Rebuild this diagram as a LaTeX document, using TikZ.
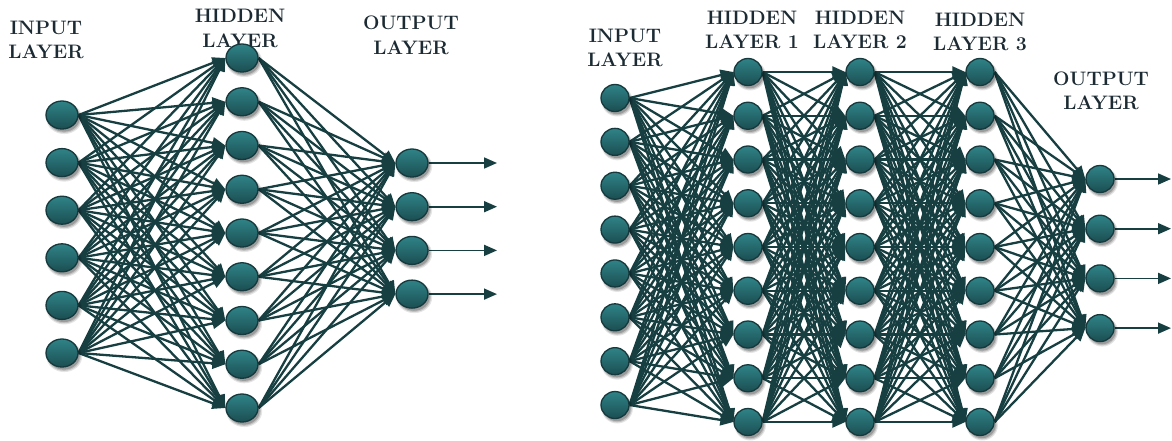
\documentclass[tikz,border=0pt]{standalone}
\usetikzlibrary{shapes.geometric,arrows.meta,shadows,backgrounds}
\definecolor{nodetop}{HTML}{2F8387}
\definecolor{nodebot}{HTML}{1B4E52}
\definecolor{nodeline}{HTML}{15393C}
\definecolor{linkcol}{HTML}{173F42}
\definecolor{titlecol}{HTML}{1C2B33}
\pgfdeclarelayer{edges}
\pgfsetlayers{background,edges,main}
\tikzset{
  softshadow/.style={
    drop shadow={shadow xshift=2pt, shadow yshift=-3pt, shadow scale=1.12, opacity=0.10, fill=black},
    drop shadow={shadow xshift=2pt, shadow yshift=-3pt, shadow scale=1.05, opacity=0.15, fill=black},
    drop shadow={shadow xshift=2pt, shadow yshift=-3pt, shadow scale=0.98, opacity=0.20, fill=black}},
  neuron/.style={ellipse, draw=nodeline, line width=1.3pt,
    top color=nodetop, bottom color=nodebot, inner sep=0pt, softshadow},
  lneuron/.style={neuron, minimum width=32pt, minimum height=28pt},
  rneuron/.style={neuron, minimum width=28pt, minimum height=27pt},
  link/.style={draw=linkcol, line width=2.3pt,
    -{Triangle[length=13pt,width=11pt]}},
  outlink/.style={draw=linkcol, line width=1.7pt,
    -{Triangle[length=13pt,width=11pt]}},
  title/.style={font=\fontsize{19.5}{24.5}\selectfont\bfseries,
    text=titlecol, align=center, inner sep=0pt}
}
\begin{document}
\begin{tikzpicture}[x=1pt,y=-1pt]
\begin{pgfonlayer}{background}
  \fill[white] (0,0) rectangle (1172,440);
\end{pgfonlayer}
\useasboundingbox (0,0) rectangle (1172,440);

% ---------- shallow network ----------
\node[title] (ltin)  at (46,40)    {INPUT\\LAYER};
\node[title] (lthid) at (240,28.5) {HIDDEN\\LAYER};
\node[title] (ltout) at (411,35.5) {OUTPUT\\LAYER};

\foreach \i in {1,...,6}
  \node[lneuron] (li\i) at (62,{115+47.6*(\i-1)}) {};
\foreach \i in {1,...,9}
  \node[lneuron] (lh\i) at (242,{58+43.75*(\i-1)}) {};
\foreach \i in {1,...,4} {
  \node[lneuron] (lo\i) at (412,{163+43.7*(\i-1)}) {};
  \coordinate (lend\i) at (497,{163+43.7*(\i-1)});
}

% ---------- deep network ----------
\node[title] (rtin)  at (625,48)   {INPUT\\LAYER};
\node[title] (rtha)  at (752,30)   {HIDDEN\\LAYER 1};
\node[title] (rthb)  at (860,30)   {HIDDEN\\LAYER 2};
\node[title] (rthc)  at (980,32)   {HIDDEN\\LAYER 3};
\node[title] (rtout) at (1101,91)  {OUTPUT\\LAYER};

\foreach \i in {1,...,8}
  \node[rneuron] (ri\i) at (615,{98+43.86*(\i-1)}) {};
\foreach \i in {1,...,9} {
  \node[rneuron] (ra\i) at (748,{72+43.75*(\i-1)}) {};
  \node[rneuron] (rb\i) at (860,{72+43.75*(\i-1)}) {};
  \node[rneuron] (rc\i) at (980,{72+43.75*(\i-1)}) {};
}
\foreach \i in {1,...,4} {
  \node[rneuron] (ro\i) at (1100,{179+49.7*(\i-1)}) {};
  \coordinate (rend\i) at (1171,{179+49.7*(\i-1)});
}

% ---------- connections, kept under the neurons ----------
\begin{pgfonlayer}{edges}
  \foreach \a in {1,...,6}
    \foreach \b in {1,...,9}
      \draw[link] (li\a.east) -- (lh\b.west);
  \foreach \a in {1,...,9}
    \foreach \b in {1,...,4}
      \draw[link] (lh\a.east) -- (lo\b.west);
  \foreach \b in {1,...,4}
    \draw[outlink] (lo\b.east) -- (lend\b);
  \foreach \a in {1,...,8}
    \foreach \b in {1,...,9}
      \draw[link] (ri\a.east) -- (ra\b.west);
  \foreach \a in {1,...,9}
    \foreach \b in {1,...,9} {
      \draw[link] (ra\a.east) -- (rb\b.west);
      \draw[link] (rb\a.east) -- (rc\b.west);
    }
  \foreach \a in {1,...,9}
    \foreach \b in {1,...,4}
      \draw[link] (rc\a.east) -- (ro\b.west);
  \foreach \b in {1,...,4}
    \draw[outlink] (ro\b.east) -- (rend\b);
\end{pgfonlayer}
\end{tikzpicture}
\end{document}
